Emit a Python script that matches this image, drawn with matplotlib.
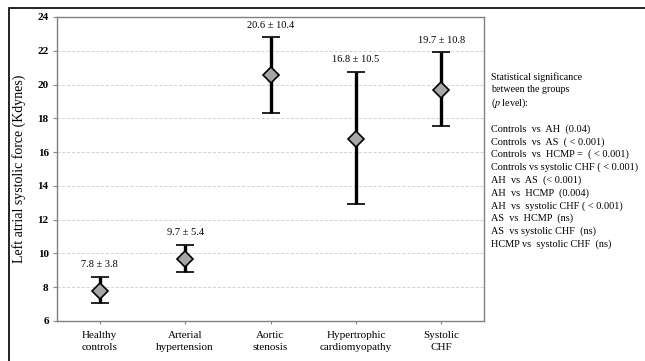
import matplotlib.pyplot as plt
from matplotlib.patches import Rectangle

plt.rcParams['font.family'] = ['Liberation Serif', 'DejaVu Serif']
plt.rcParams['mathtext.fontset'] = 'stix'

groups = ["Healthy\ncontrols", "Arterial\nhypertension", "Aortic\nstenosis",
          "Hypertrophic\ncardiomyopathy", "Systolic\nCHF"]
means = [7.8, 9.7, 20.55, 16.8, 19.7]
lower = [7.05, 8.9, 18.3, 12.9, 17.55]
upper = [8.6, 10.5, 22.8, 20.75, 21.9]
labels = ["7.8 ± 3.8", "9.7 ± 5.4", "20.6 ± 10.4", "16.8 ± 10.5", "19.7 ± 10.8"]

notes_head = ["Statistical significance", "between the groups", "($p$ level):"]
notes = [
    "Controls  vs  AH  (0.04)",
    "Controls  vs  AS  ( < 0.001)",
    "Controls  vs  HCMP =  ( < 0.001)",
    "Controls vs systolic CHF ( < 0.001)",
    "AH  vs  AS  (< 0.001)",
    "AH  vs  HCMP  (0.004)",
    "AH  vs  systolic CHF ( < 0.001)",
    "AS  vs  HCMP  (ns)",
    "AS  vs systolic CHF  (ns)",
    "HCMP vs  systolic CHF  (ns)",
]

fig = plt.figure(figsize=(6.45, 3.61), dpi=100)
W, H = 645, 361

# outer frame
fig.patches.append(Rectangle((9 / W, -0.1), 1.2, 1 - 8 / H + 0.1, transform=fig.transFigure,
                             fill=False, edgecolor='black', linewidth=1.2))

ax = fig.add_axes([57 / W, 1 - 321 / H, (484 - 57) / W, (321 - 17) / H])
x = list(range(len(groups)))
yerr = [[m - l for m, l in zip(means, lower)], [u - m for m, u in zip(means, upper)]]
ax.errorbar(x, means, yerr=yerr, fmt='D', color='black', ecolor='black',
            markerfacecolor='#a6a6a6', markeredgecolor='black', markersize=8,
            markeredgewidth=1.2, elinewidth=2.4, capsize=6.5, capthick=2.4, zorder=3)
for xi, u, t in zip(x, upper, labels):
    ax.text(xi, u + 0.45, t, ha='center', va='bottom', fontsize=7.5)

ax.set_xlim(-0.5, 4.5)
ax.set_ylim(6, 24)
ax.set_yticks(range(6, 25, 2))
ax.set_xticks(x)
ax.set_xticklabels(groups, fontsize=8, linespacing=1.45)
for lab in ax.get_yticklabels():
    lab.set_fontweight('bold')
    lab.set_fontsize(8)
ax.tick_params(axis='x', length=2, color='#888888', pad=5)
ax.tick_params(axis='y', length=3, color='#888888', pad=3)
ax.yaxis.grid(True, linestyle=(0, (3, 2)), color='#d0d0d0', linewidth=0.7)
ax.set_axisbelow(True)
for s in ax.spines.values():
    s.set_color('#808080')
    s.set_linewidth(1.0)
ax.set_ylabel("Left atrial systolic force (Kdynes)", fontsize=10, labelpad=8)

ty = 77
for line in notes_head:
    fig.text(491 / W, 1 - ty / H, line, fontsize=7.2, va='center', ha='left')
    ty += 13
ty = 129
for line in notes:
    fig.text(491 / W, 1 - ty / H, line, fontsize=7.4, va='center', ha='left')
    ty += 12.8

fig.savefig("out.png", dpi=100)
